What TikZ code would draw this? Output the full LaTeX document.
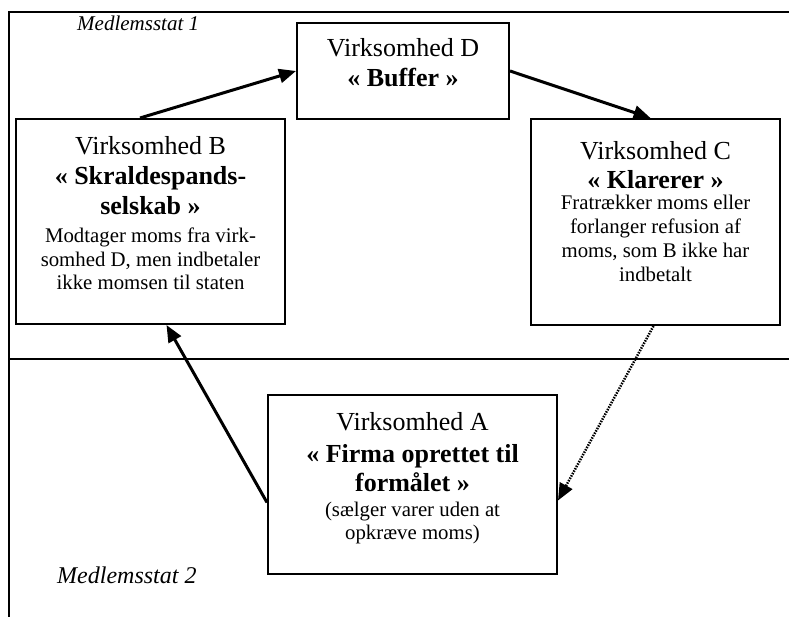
\documentclass[tikz,border=0pt]{standalone}
\usepackage{fontspec}
\setmainfont{Liberation Serif}
\usetikzlibrary{arrows.meta}
\begin{document}
\begin{tikzpicture}[x=1pt,y=-1pt,
  framerule/.style={line width=1.5pt},
  box/.style={draw, line width=2pt, rectangle, inner sep=0pt},
  hd/.style={anchor=base, inner sep=0pt, font=\fontsize{26}{30}\selectfont},
  hdb/.style={anchor=base, inner sep=0pt, font=\fontsize{26}{30}\selectfont\bfseries},
  bd/.style={anchor=base, inner sep=0pt, font=\fontsize{20.8}{24}\selectfont},
  lbl/.style={anchor=base west, inner sep=0pt},
  flow/.style={line width=3pt, -{Triangle[length=17pt,width=14pt]}},
  dotflow/.style={line width=2.5pt, dash pattern=on 1.5pt off 1.2pt, -{Triangle[length=17pt,width=14pt]}}]
\useasboundingbox (0,0) rectangle (789,617);
% frame
\coordinate (tl) at (9,12);
\coordinate (tr) at (789,12);
\coordinate (bl) at (9,617);
\coordinate (ml) at (9,359);
\coordinate (mr) at (789,359);
\draw[framerule] (tr) -- (tl) -- (bl);
\draw[framerule] (ml) -- (mr);
\node[lbl, font=\fontsize{21}{24}\selectfont\itshape] (m1) at (77,31) {Medlemsstat 1};
\node[lbl, font=\fontsize{24}{28}\selectfont\itshape] (m2) at (57,583) {Medlemsstat 2};
% boxes
\node[box, minimum width=212pt, minimum height=96pt] (D) at (403,71) {};
\node[box, minimum width=269pt, minimum height=205pt] (B) at (150.5,221.5) {};
\node[box, minimum width=249pt, minimum height=206pt] (C) at (655.5,222) {};
\node[box, minimum width=289pt, minimum height=179pt] (A) at (412.5,484.5) {};
% D text
\node[hd] (d1) at (403,57) {Virksomhed D};
\node[hdb] (d2) at (403,87) {« Buffer »};
% B text
\node[hd] (b1) at (150.5,155) {Virksomhed B};
\node[hdb] (b2) at (150.5,185) {« Skraldespands-};
\node[hdb] (b3) at (150.5,215) {selskab »};
\node[bd] (b4) at (150.5,243) {Modtager moms fra virk-};
\node[bd] (b5) at (150.5,267) {somhed D, men indbetaler};
\node[bd] (b6) at (150.5,290) {ikke momsen til staten};
% C text
\node[hd] (c1) at (655.5,160) {Virksomhed C};
\node[hdb] (c2) at (655.5,189) {« Klarerer »};
\node[bd] (c3) at (655.5,210) {Fratrækker moms eller};
\node[bd] (c4) at (655.5,234) {forlanger refusion af};
\node[bd] (c5) at (655.5,258) {moms, som B ikke har};
\node[bd] (c6) at (655.5,282) {indbetalt};
% A text
\node[hd] (a1) at (412.5,430) {Virksomhed A};
\node[hdb] (a2) at (412.5,462) {« Firma oprettet til};
\node[hdb] (a3) at (412.5,491) {formålet »};
\node[bd] (a4) at (412.5,516) {(sælger varer uden at};
\node[bd] (a5) at (412.5,539) {opkræve moms)};
% connectors
\draw[flow] ([xshift=-10.5pt]B.north) -- (D.west);
\draw[flow] (D.east) -- ([xshift=-5pt]C.north);
\draw[flow] ([yshift=-18pt]A.west) -- ([xshift=16pt]B.south);
\draw[dotflow] ([xshift=-2pt]C.south) -- ([yshift=-16pt]A.east);
\end{tikzpicture}
\end{document}
